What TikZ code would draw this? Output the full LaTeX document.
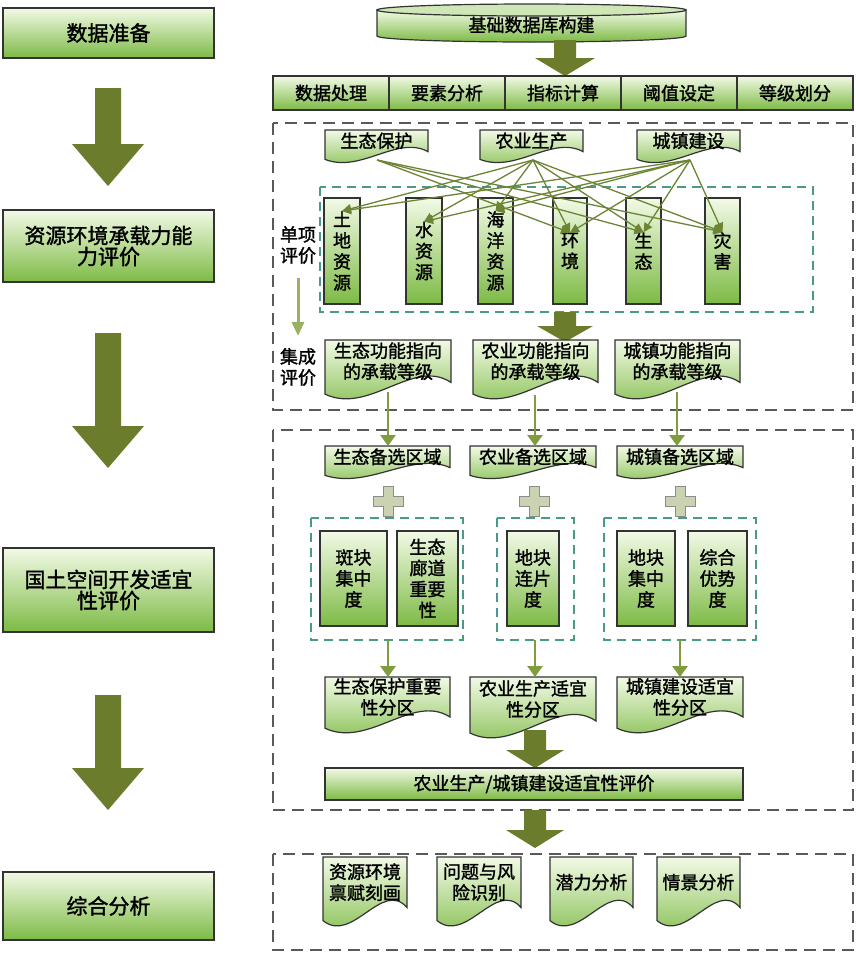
\documentclass[tikz,border=0pt]{standalone}
\usepackage{fontspec}
\setmainfont{Noto Sans CJK SC}[FakeBold=1.5]
\usetikzlibrary{arrows.meta}
\definecolor{gtop}{HTML}{F2FAE6}
\definecolor{gbot}{HTML}{7DBA45}
\definecolor{olive}{HTML}{6B7D2C}
\definecolor{thin}{HTML}{7F9C3E}
\definecolor{teal}{HTML}{4A9A8A}
\definecolor{plusc}{HTML}{C9D3B2}
\tikzset{
  gbox/.style={draw=black!80,line width=1.2pt,top color=gtop,bottom color=gbot},
  txt/.style={font=\fontsize{18}{21}\selectfont,align=center,inner sep=0pt},
  odash/.style={draw=black!65,line width=1.6pt,dash pattern=on 12pt off 7pt},
  tdash/.style={draw=teal,line width=1.3pt,dash pattern=on 9pt off 6pt},
  tarr/.style={draw=thin,line width=2.6pt,-{Triangle[length=11pt,width=15pt]}},
}
\newcommand\DocShape[6]{% name x1 y1 x2 y2 text
  \pgfmathsetmacro\dW{#4-#2}\pgfmathsetmacro\dd{(#5-#3)*0.2+4}
  \path[gbox] (#2,#3) -- (#4,#3) -- (#4,#5-\dd) .. controls (#2+0.7*\dW,#5-2.6*\dd) and (#2+0.35*\dW,#5+1.1*\dd) .. (#2,#5-0.25*\dd) -- cycle;
  \node[txt] (#1) at ({(#2+#4)/2},{(#3+#5-\dd)/2}) {#6};}
\newcommand\RBox[6]{% name x1 y1 x2 y2 text
  \path[gbox] (#2,#3) rectangle (#4,#5);
  \node[txt] (#1) at ({(#2+#4)/2},{(#3+#5)/2}) {#6};}
\newcommand\BigArr[6]{% x y1 y2 shafthalf headhalf headlen
  \fill[olive] (#1-#4,#2) -- (#1+#4,#2) -- (#1+#4,#3-#6) -- (#1+#5,#3-#6) -- (#1,#3) -- (#1-#5,#3-#6) -- (#1-#4,#3-#6) -- cycle;}
\newcommand\PlusSign[2]{%
  \path[fill=plusc,draw=black!45,line width=0.8pt] (#1-5,#2-15) -- (#1+5,#2-15) -- (#1+5,#2-5) -- (#1+15,#2-5) -- (#1+15,#2+5) -- (#1+5,#2+5) -- (#1+5,#2+15) -- (#1-5,#2+15) -- (#1-5,#2+5) -- (#1-15,#2+5) -- (#1-15,#2-5) -- (#1-5,#2-5) -- cycle;}
\begin{document}
\begin{tikzpicture}[x=1pt,y=-1pt]
\useasboundingbox[fill=white] (0,0) rectangle (856,954);
% left column
\RBox{L1}{3}{8}{214}{58}{\fontsize{21}{26}\selectfont 数据准备}
\RBox{L2}{3}{210}{214}{282}{\fontsize{21}{29}\selectfont 资源环境承载力能\\ \fontsize{21}{29}\selectfont 力评价}
\RBox{L3}{3}{548}{214}{632}{\fontsize{21}{29}\selectfont 国土空间开发适宜\\ \fontsize{21}{29}\selectfont 性评价}
\RBox{L4}{3}{872}{214}{940}{\fontsize{21}{26}\selectfont 综合分析}
\BigArr{108}{88}{186}{13}{36}{42}
\BigArr{108}{333}{468}{13}{36}{42}
\BigArr{108}{695}{810}{13}{36}{42}
% cylinder
\path[gbox] (377,10) -- (377,36) arc[start angle=180,end angle=0,x radius=154.5,y radius=6] -- (686,10) -- cycle;
\path[draw=black!80,line width=1.2pt,fill=gtop!70!gbot] (531.5,10) ellipse[x radius=154.5,y radius=6];
\node[txt] (db) at (531.5,25) {基础数据库构建};
\BigArr{565}{40}{76}{11}{30}{18}
% process row
\foreach \t [count=\i, evaluate=\i as \xa using 273+(\i-1)*116, evaluate=\i as \xb using 273+\i*116] in {数据处理,要素分析,指标计算,阈值设定,等级划分}{
  \RBox{P\i}{\xa}{76}{\xb}{110}{\t}}
% box 1
\draw[odash] (273,123) rectangle (853,410);
\draw[tdash] (320,187) rectangle (813,312);
\DocShape{D1}{325}{130}{428}{162}{生态保护}
\DocShape{D2}{480}{130}{583}{162}{农业生产}
\DocShape{D3}{637}{130}{740}{162}{城镇建设}
\RBox{V1}{324}{198}{360}{304}{\fontsize{18}{23}\selectfont 土\\地\\资\\源}
\RBox{V2}{406}{198}{442}{304}{\fontsize{18}{23}\selectfont 水\\资\\源}
\RBox{V3}{478}{198}{513}{304}{\fontsize{18}{23}\selectfont 海\\洋\\资\\源}
\RBox{V4}{553}{198}{587}{304}{\fontsize{18}{23}\selectfont 环\\境}
\RBox{V5}{626}{198}{661}{304}{\fontsize{18}{23}\selectfont 生\\态}
\RBox{V6}{705}{198}{740}{304}{\fontsize{18}{23}\selectfont 灾\\害}
\coordinate (s1) at (377,160);\coordinate (s2) at (533,160);\coordinate (s3) at (690,160);
\foreach \s/\t in {s1/V4,s1/V5,s1/V6,s2/V1,s2/V2,s2/V3,s2/V4,s2/V5,s2/V6,s3/V1,s3/V2,s3/V3,s3/V4,s3/V5,s3/V6}{
  \draw[draw=thin!85!black,line width=1.3pt,-{Triangle[length=9pt,width=9pt]}] (\s) -- (\t.north);}
\node[txt] (dx) at (298,245) {单项\\评价};
\node[txt] (jc) at (298,367) {集成\\评价};
\draw[draw=thin!80,line width=3pt,-{Triangle[length=14pt,width=12pt]}] (298,278) -- (298,336);
\BigArr{565}{312}{342}{11}{28}{16}
\DocShape{F1}{325}{340}{451}{398}{生态功能指向\\的承载等级}
\DocShape{F2}{473}{340}{598}{398}{农业功能指向\\的承载等级}
\DocShape{F3}{615}{340}{740}{398}{城镇功能指向\\的承载等级}
% box 2
\draw[odash] (273,430) rectangle (853,810);
\DocShape{B1}{325}{446}{450}{478}{生态备选区域}
\DocShape{B2}{470}{446}{596}{478}{农业备选区域}
\DocShape{B3}{617}{446}{743}{478}{城镇备选区域}
\draw[tarr] (388,392) -- (388,446);
\draw[tarr] (535,395) -- (535,446);
\draw[tarr] (677,392) -- (677,446);
\PlusSign{388}{501}\PlusSign{534}{501}\PlusSign{680}{501}
\draw[tdash] (311,518) rectangle (463,640);
\draw[tdash] (497,518) rectangle (574,640);
\draw[tdash] (604,518) rectangle (756,640);
\RBox{C1}{320}{531}{387}{626}{斑块\\集中\\度}
\RBox{C2}{397}{531}{458}{626}{生态\\廊道\\重要\\性}
\RBox{C3}{507}{531}{559}{626}{地块\\连片\\度}
\RBox{C4}{617}{531}{675}{626}{地块\\集中\\度}
\RBox{C5}{688}{531}{747}{626}{综合\\优势\\度}
\coordinate (g1) at (388,640);\coordinate (g2) at (535,640);\coordinate (g3) at (680,640);
\DocShape{Z1}{325}{677}{450}{732}{生态保护重要\\性分区}
\DocShape{Z2}{470}{677}{596}{737}{农业生产适宜\\性分区}
\DocShape{Z3}{617}{677}{743}{732}{城镇建设适宜\\性分区}
\draw[tarr] (g1) -- (388,677);
\draw[tarr] (g2) -- (535,677);
\draw[tarr] (g3) -- (680,677);
\BigArr{535}{730}{768}{11}{29}{18}
\RBox{E}{325}{768}{743}{800}{农业生产/城镇建设适宜性评价}
\BigArr{535}{810}{848}{11}{29}{18}
% box 3
\draw[odash] (273,854) rectangle (853,950);
\DocShape{A1}{323}{857}{407}{925}{资源环境\\禀赋刻画}
\DocShape{A2}{437}{857}{521}{925}{问题与风\\险识别}
\DocShape{A3}{550}{857}{633}{925}{潜力分析}
\DocShape{A4}{657}{857}{740}{925}{情景分析}
\end{tikzpicture}
\end{document}
